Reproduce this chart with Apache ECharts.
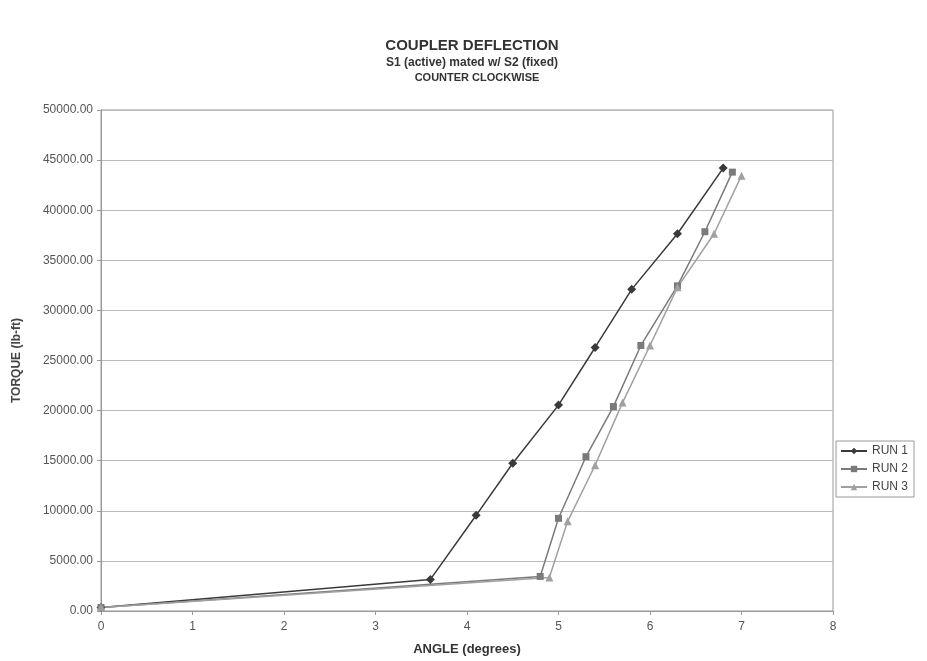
<!DOCTYPE html>
<html>
<head>
<meta charset="utf-8">
<script src="https://cdn.jsdelivr.net/npm/echarts@6/dist/echarts.min.js"></script>
<style>
  html, body { margin: 0; padding: 0; background: #fff; }
  #chart { width: 927px; height: 661px; }
</style>
</head>
<body>
<div id="chart"></div>
<script>
// values
const run1Angle = [0, 3.6, 4.1, 4.5, 5.0, 5.4, 5.8, 6.3, 6.8]
const run1Torque = [350, 3150, 9550, 14750, 20550, 26300, 32100, 37650, 44200]
const run2Angle = [0, 4.8, 5.0, 5.3, 5.6, 5.9, 6.3, 6.6, 6.9]
const run2Torque = [350, 3450, 9250, 15400, 20400, 26500, 32450, 37850, 43800]
const run3Angle = [0, 4.9, 5.1, 5.4, 5.7, 6.0, 6.3, 6.7, 7.0]
const run3Torque = [350, 3350, 8950, 14550, 20800, 26500, 32300, 37650, 43450]

const font = 'Liberation Sans, Arial, sans-serif'

function pairs(xs, ys) {
  return xs.map((x, i) => [x, ys[i]])
}

function makeSeries(name, xs, ys, color, symbol, size) {
  return {
    name: name,
    type: 'line',
    data: pairs(xs, ys),
    symbol: symbol,
    symbolSize: size,
    showAllSymbol: true,
    animation: false,
    itemStyle: { color: color },
    lineStyle: { color: color, width: 1.5 }
  }
}

const chart = echarts.init(document.getElementById('chart'))

chart.setOption({
  backgroundColor: '#fff',
  textStyle: { fontFamily: font },
  title: [
    {
      text: 'COUPLER DEFLECTION',
      left: 467, top: 33, textAlign: 'center',
      textStyle: { fontSize: 15, fontWeight: 'bold', color: '#333', fontFamily: font }
    },
    {
      text: 'S1 (active) mated w/ S2 (fixed)',
      left: 467, top: 52, textAlign: 'center',
      textStyle: { fontSize: 12, fontWeight: 'bold', color: '#333', fontFamily: font }
    },
    {
      text: 'COUNTER CLOCKWISE',
      left: 472, top: 67, textAlign: 'center',
      textStyle: { fontSize: 11, fontWeight: 'bold', color: '#333', fontFamily: font }
    }
  ],
  legend: {
    orient: 'vertical',
    left: 836,
    top: 441,
    itemWidth: 26,
    itemHeight: 8,
    itemGap: 6,
    padding: [4, 6, 4, 4],
    borderColor: '#999',
    borderWidth: 1,
    textStyle: { fontSize: 12, color: '#444', fontFamily: font },
    data: ['RUN 1', 'RUN 2', 'RUN 3']
  },
  grid: {
    left: 101,
    right: 94,
    top: 110,
    bottom: 48,
    show: true,
    borderColor: '#999',
    borderWidth: 1
  },
  xAxis: {
    type: 'value',
    min: 0,
    max: 8,
    interval: 1,
    name: 'ANGLE (degrees)',
    nameLocation: 'middle',
    nameGap: 32,
    nameTextStyle: { fontSize: 13, fontWeight: 'bold', color: '#333' },
    axisLine: { lineStyle: { color: '#999' } },
    axisTick: { show: true, inside: false, length: 4, lineStyle: { color: '#999' } },
    axisLabel: { fontSize: 12, color: '#555', margin: 10 },
    splitLine: { show: false }
  },
  yAxis: {
    type: 'value',
    min: 0,
    max: 50000,
    interval: 5000,
    name: 'TORQUE (lb-ft)',
    nameLocation: 'middle',
    nameGap: 78,
    nameTextStyle: { fontSize: 12, fontWeight: 'bold', color: '#444' },
    axisLine: { show: true, lineStyle: { color: '#999' } },
    axisTick: { show: true, inside: false, length: 4, lineStyle: { color: '#999' } },
    axisLabel: {
      fontSize: 12, color: '#555', margin: 8,
      formatter: v => v.toFixed(2)
    },
    splitLine: { lineStyle: { color: '#bbb', width: 1 } }
  },
  series: [
    makeSeries('RUN 1', run1Angle, run1Torque, '#3a3a3a', 'diamond', 9),
    makeSeries('RUN 2', run2Angle, run2Torque, '#7a7a7a', 'rect', 7),
    makeSeries('RUN 3', run3Angle, run3Torque, '#a0a0a0', 'triangle', 8)
  ]
})
</script>
</body>
</html>
